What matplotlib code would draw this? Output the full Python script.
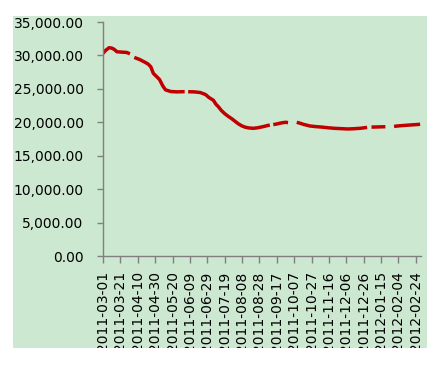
import numpy as np
import pandas as pd
import matplotlib
matplotlib.use("Agg")
import matplotlib.pyplot as plt
from matplotlib.patches import Rectangle
from matplotlib.ticker import FuncFormatter

nan = np.nan
dates = [
    "2011-03-01", "2011-03-04", "2011-03-08", "2011-03-11", "2011-03-14", "2011-03-17",
    "2011-03-22", "2011-03-28", "2011-04-01", "2011-04-04", "2011-04-06", "2011-04-12",
    "2011-04-18", "2011-04-22", "2011-04-25", "2011-04-28", "2011-05-02", "2011-05-05",
    "2011-05-09", "2011-05-12", "2011-05-18", "2011-05-25", "2011-06-03", "2011-06-06",
    "2011-06-07", "2011-06-14", "2011-06-21", "2011-06-27", "2011-07-01", "2011-07-06",
    "2011-07-09", "2011-07-12", "2011-07-15", "2011-07-19", "2011-07-23", "2011-07-27",
    "2011-07-31", "2011-08-04", "2011-08-08", "2011-08-12", "2011-08-16", "2011-08-21",
    "2011-08-26", "2011-09-01", "2011-09-06", "2011-09-09", "2011-09-12", "2011-09-13",
    "2011-09-17", "2011-09-22", "2011-09-27", "2011-09-30", "2011-10-01", "2011-10-10",
    "2011-10-14", "2011-10-18", "2011-10-25", "2011-11-01", "2011-11-08", "2011-11-15",
    "2011-11-22", "2011-11-30", "2011-12-07", "2011-12-14", "2011-12-22", "2011-12-30",
    "2012-01-01", "2012-01-04", "2012-01-10", "2012-01-16", "2012-01-20", "2012-01-23",
    "2012-01-30", "2012-02-03", "2012-02-10", "2012-02-17", "2012-02-24", "2012-02-29",
]
values = [
    30300, 30750, 31150, 31100, 30900, 30550,
    30500, 30450, 30250, nan, 29700, 29400,
    29000, 28700, 28300, 27300, 26800, 26400,
    25400, 24850, 24600, 24550, 24580, nan,
    24570, 24550, 24450, 24150, 23700, 23300,
    22700, 22300, 21800, 21300, 20900, 20550,
    20150, 19750, 19450, 19250, 19150, 19100,
    19180, 19340, 19500, 19600, nan, 19650,
    19750, 19900, 20000, 19950, nan, 20000,
    19850, 19680, 19450, 19350, 19280, 19180,
    19100, 19050, 19000, 19030, 19100, 19230,
    nan, 19280, 19300, 19320, 19340, nan,
    19380, 19450, 19520, 19590, 19650, 19700,
]
tick_labels = [
    "2011-03-01", "2011-03-21", "2011-04-10", "2011-04-30", "2011-05-20", "2011-06-09",
    "2011-06-29", "2011-07-19", "2011-08-08", "2011-08-28", "2011-09-17", "2011-10-07",
    "2011-10-27", "2011-11-16", "2011-12-06", "2011-12-26", "2012-01-15", "2012-02-04",
    "2012-02-24",
]
y_ticks = [0, 5000, 10000, 15000, 20000, 25000, 30000, 35000]

W, H = 434, 367
green = "#cde8d0"
fig = plt.figure(figsize=(W / 100, H / 100), dpi=100, facecolor="white")
fig.patches.append(Rectangle((13 / W, 1 - 348 / H), (427 - 13) / W, (348 - 16) / H,
                             transform=fig.transFigure, facecolor=green,
                             edgecolor="none", zorder=-1))

ax = fig.add_axes([103 / W, 1 - 256 / H, (421 - 103) / W, (256 - 22) / H])
ax.set_facecolor(green)

x = pd.to_datetime(dates)
ax.plot(x, values, color="#c00000", lw=2.5, solid_joinstyle="round",
        solid_capstyle="butt")

start = pd.Timestamp("2011-03-01")
ax.set_xlim(start, start + pd.Timedelta(days=366))
ax.set_ylim(0, 35000)
ax.set_yticks(y_ticks)
ax.yaxis.set_major_formatter(FuncFormatter(lambda v, p: f"{v:,.2f}"))
ax.set_xticks(pd.to_datetime(tick_labels))
ax.set_xticklabels(tick_labels, rotation=90, fontsize=10, color="black",
                   va="top", ha="center")
ax.tick_params(axis="y", labelsize=10, colors="#808080", labelcolor="black",
               length=4, width=1, pad=10)
ax.tick_params(axis="x", colors="#808080", labelcolor="black",
               length=5, width=1, pad=6)
for s in ["top", "right"]:
    ax.spines[s].set_visible(False)
for s in ["left", "bottom"]:
    ax.spines[s].set_color("#808080")
    ax.spines[s].set_linewidth(1)

# clip the tick labels at the bottom edge of the chart area
fig.patches.append(Rectangle((0, 0), 1, 1 - 348 / H, transform=fig.transFigure,
                             facecolor="white", edgecolor="none", zorder=10))

fig.savefig("out.png", dpi=100, facecolor="white")
